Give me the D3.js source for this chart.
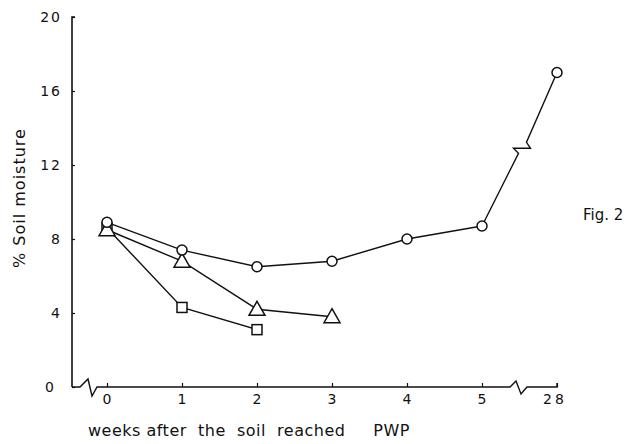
<!DOCTYPE html>
<html><head><meta charset="utf-8">
<script src="https://cdn.jsdelivr.net/npm/d3@7"></script>
<style>body{margin:0;background:#fff}svg{display:block}text{font-family:"DejaVu Sans",sans-serif;fill:#111}</style>
</head><body>
<svg id="c" width="627" height="444"></svg>
<script>
const weeks = ["0","1","2","3","4","5","28"];
const yTicks = [0,4,8,12,16,20];
const circleSeries = [8.9,7.4,6.5,6.8,8.0,8.7,17.0];
const triangleSeries = [8.5,6.8,4.2,3.8];
const squareSeries = [8.6,4.3,3.1];

const svg = d3.select("#c");
const x = d3.scalePoint().domain(weeks).range([107,557]);
const y = d3.scaleLinear().domain([0,20]).range([387,17]);
const ink = "#111";

// y axis
const yAxis = d3.axisRight(y).tickValues(yTicks).tickSize(3).tickFormat("");
const ga = svg.append("g").attr("transform","translate(72,0)").call(yAxis);
ga.select(".domain").attr("stroke",ink).attr("stroke-width",1.6).attr("d","M0,"+y(0)+"V"+y(20)+"h3");
ga.selectAll(".tick line").attr("stroke",ink).attr("stroke-width",1.2);
svg.append("g").selectAll("text").data(yTicks).join("text")
  .attr("x",d=>d===0?56:62).attr("y",d=>y(d)+5).attr("text-anchor","end")
  .attr("font-size",14).attr("letter-spacing",2).text(d=>d);

// x axis with breaks
const y0 = y(0);
const xa = d3.path();
xa.moveTo(72,y0); xa.lineTo(80,y0); xa.lineTo(88,y0-8); xa.lineTo(92,y0+9); xa.lineTo(97,y0); xa.lineTo(510,y0);
xa.lineTo(516,y0-6); xa.lineTo(521,y0+7); xa.lineTo(527,y0); xa.lineTo(x("28"),y0); xa.lineTo(x("28"),y0-4);
svg.append("path").attr("d",xa.toString()).attr("fill","none").attr("stroke",ink).attr("stroke-width",1.4);
const xAxis = d3.axisTop(x).tickSize(4).tickFormat("");
const gx = svg.append("g").attr("transform","translate(0,"+y0+")").call(xAxis);
gx.select(".domain").remove();
gx.selectAll(".tick line").attr("stroke",ink).attr("stroke-width",1.2);
svg.append("g").selectAll("text").data(weeks).join("text")
  .attr("x",d=>x(d)+(d==="28"?-2:0)).attr("y",y0+17).attr("text-anchor","middle")
  .attr("font-size",14).attr("letter-spacing",d=>d==="28"?3:0).text(d=>d);

// lines
const lineGen = d3.line().x(d=>x(d[0])).y(d=>y(d[1]));
function series(vals){return vals.map((v,i)=>[weeks[i],v]);}
const cData = series(circleSeries);
svg.append("path").attr("d",lineGen(cData.slice(0,6))).attr("fill","none").attr("stroke",ink).attr("stroke-width",1.4);
// break segment from week 5 to week 28
const p5=[x("5"),y(circleSeries[5])], p28=[x("28"),y(circleSeries[6])];
const mx=(p5[0]+p28[0])/2, my=(p5[1]+p28[1])/2;
const bp=d3.path();
bp.moveTo(p5[0],p5[1]); bp.lineTo(mx-1,my+4); bp.lineTo(mx-6,my-1); bp.lineTo(mx+11,my-1); bp.lineTo(mx+7,my-7); bp.lineTo(p28[0],p28[1]);
svg.append("path").attr("d",bp.toString()).attr("fill","none").attr("stroke",ink).attr("stroke-width",1.4);
const tData = series(triangleSeries), sData = series(squareSeries);
svg.append("path").attr("d",lineGen(tData)).attr("fill","none").attr("stroke",ink).attr("stroke-width",1.4);
svg.append("path").attr("d",lineGen(sData)).attr("fill","none").attr("stroke",ink).attr("stroke-width",1.4);

// markers
svg.append("g").selectAll("rect").data(sData).join("rect")
  .attr("x",d=>x(d[0])-5).attr("y",d=>y(d[1])-5).attr("width",10).attr("height",10)
  .attr("fill","#fff").attr("stroke",ink).attr("stroke-width",1.5);
svg.append("g").selectAll("path").data(tData).join("path")
  .attr("d",d=>{const cx=x(d[0]),cy=y(d[1]);return `M${cx},${cy-8}L${cx+8},${cy+6}L${cx-8},${cy+6}Z`;})
  .attr("fill","#fff").attr("stroke",ink).attr("stroke-width",1.5);
svg.append("g").selectAll("circle").data(cData).join("circle")
  .attr("cx",d=>x(d[0])).attr("cy",d=>y(d[1])).attr("r",5)
  .attr("fill","#fff").attr("stroke",ink).attr("stroke-width",1.5);

// labels
svg.append("text").attr("transform","translate(25,198) rotate(-90)").attr("text-anchor","middle")
  .attr("font-size",16).attr("letter-spacing",1).text("% Soil moisture");
svg.append("text").attr("x",88).attr("y",436).attr("font-size",16).attr("letter-spacing",0.5)
  .attr("xml:space","preserve").style("white-space","pre").text("weeks after  the  soil  reached     PWP");
svg.append("text").attr("x",583).attr("y",220).attr("font-size",15).text("Fig. 2");
</script>
</body></html>
